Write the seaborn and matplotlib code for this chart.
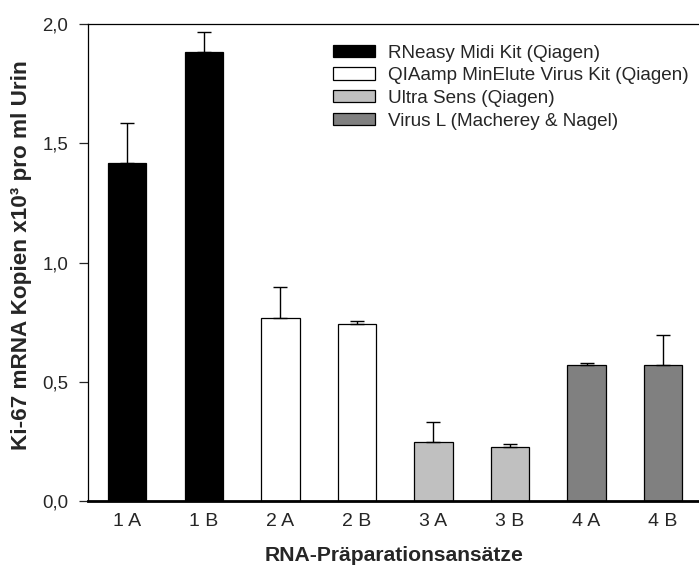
import numpy as np
import pandas as pd
import matplotlib
matplotlib.use("Agg")
import matplotlib.pyplot as plt
from matplotlib.patches import Patch
import seaborn as sns

# Ki-67 mRNA copies per ml urine for each RNA preparation run
samples = ["1 A", "1 B", "2 A", "2 B", "3 A", "3 B", "4 A", "4 B"]
kits = ["RNeasy Midi Kit (Qiagen)", "RNeasy Midi Kit (Qiagen)",
        "QIAamp MinElute Virus Kit (Qiagen)", "QIAamp MinElute Virus Kit (Qiagen)",
        "Ultra Sens (Qiagen)", "Ultra Sens (Qiagen)",
        "Virus L (Macherey & Nagel)", "Virus L (Macherey & Nagel)"]
means = [1.416, 1.884, 0.769, 0.742, 0.249, 0.225, 0.570, 0.569]
errors = [0.170, 0.081, 0.127, 0.011, 0.081, 0.015, 0.007, 0.126]

kit_order = ["RNeasy Midi Kit (Qiagen)", "QIAamp MinElute Virus Kit (Qiagen)",
             "Ultra Sens (Qiagen)", "Virus L (Macherey & Nagel)"]
kit_colors = ["#000000", "#FFFFFF", "#C0C0C0", "#808080"]

yticks = [0.0, 0.5, 1.0, 1.5, 2.0]
ytick_labels = ["0,0", "0,5", "1,0", "1,5", "2,0"]

df = pd.DataFrame({"Ansatz": samples, "Kit": kits, "Wert": means, "SD": errors})

sns.set_style("white")
plt.rcParams["font.family"] = ["Liberation Sans", "DejaVu Sans"]

fig = plt.figure(figsize=(6.99, 5.66), dpi=100)
ax = fig.add_axes([88.3 / 699, 65 / 566, 1 - 88.3 / 699, 477 / 566])

sns.barplot(data=df, x="Ansatz", y="Wert", hue="Kit", hue_order=kit_order,
            palette=dict(zip(kit_order, kit_colors)), dodge=False, width=0.5,
            errorbar=None, edgecolor="black", linewidth=0.9, legend=False, ax=ax)

# one-sided (upward) error bars
xpos = np.arange(len(samples))
ax.errorbar(xpos, df["Wert"], yerr=[np.zeros(len(samples)), df["SD"]],
            fmt="none", ecolor="black", elinewidth=1.0, capsize=5, capthick=1.0,
            zorder=1)

ax.set_xlim(-0.51, 7.47)
ax.set_ylim(0, 2.0)
ax.set_yticks(yticks)
ax.set_yticklabels(ytick_labels)
ax.tick_params(axis="y", direction="out", length=6.5, width=0.9, labelsize=13.4,
               left=True, pad=8)
ax.tick_params(axis="x", length=0, labelsize=14, pad=9)

for side in ["left", "top"]:
    ax.spines[side].set_color("black")
    ax.spines[side].set_linewidth(0.9)
ax.spines["bottom"].set_color("black")
ax.spines["bottom"].set_linewidth(2.0)
ax.spines["right"].set_visible(False)

ax.set_xlabel("RNA-Präparationsansätze", fontsize=15.2, fontweight="bold", labelpad=11)
ax.set_ylabel("Ki-67 mRNA Kopien x10³ pro ml Urin", fontsize=16.2, fontweight="bold")
ax.yaxis.set_label_coords((32 - 88.3) / 610.7, (501 - 255) / 477)

handles = [Patch(facecolor=c, edgecolor="black", linewidth=0.9) for c in kit_colors]
ax.legend(handles, kit_order, loc="upper left", bbox_to_anchor=(333 / 699, 1 - 44.5 / 566),
          bbox_transform=fig.transFigure, frameon=False, fontsize=13.6,
          handlelength=2.22, handleheight=0.63, handletextpad=0.69,
          labelspacing=0.3, borderpad=0, borderaxespad=0)

fig.savefig("out.png", dpi=100)
